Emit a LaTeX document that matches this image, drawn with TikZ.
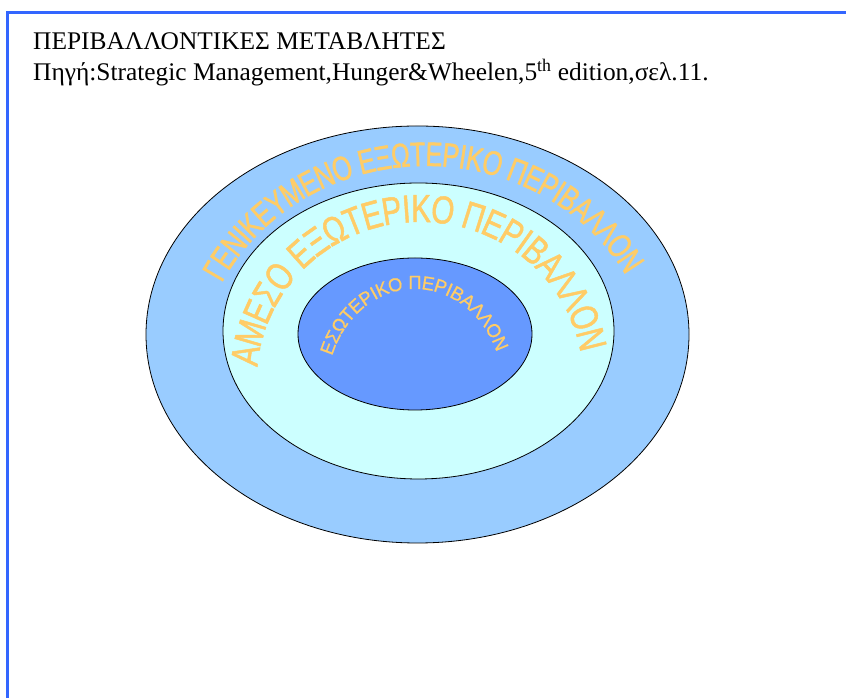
\documentclass[tikz,border=0pt]{standalone}
\usepackage{fontspec}
\setmainfont{Liberation Serif}
\newfontfamily\outerarchfont[FakeStretch=0.74,FakeBold=1.2]{Liberation Sans}
\newfontfamily\midarchfont[FakeStretch=0.76,FakeBold=1.2]{Liberation Sans}
\newfontfamily\innerarchfont[FakeStretch=0.97,FakeBold=0.8]{Liberation Sans}
\usetikzlibrary{decorations.text,shapes.geometric}
\definecolor{frameblue}{RGB}{51,102,255}
\definecolor{outerfill}{RGB}{153,204,255}
\definecolor{midfill}{RGB}{204,255,255}
\definecolor{innerfill}{RGB}{102,153,255}
\definecolor{wordart}{RGB}{255,204,102}
\begin{document}
\begin{tikzpicture}[x=1pt,y=1pt,
  ring/.style={ellipse, draw=black, line width=0.8pt, inner sep=0pt},
  arch/.style={decorate, decoration={text along path, text align=fit to path, text color=wordart}},
  titletext/.style={anchor=base west, inner sep=0pt, font=\fontsize{25.4}{30}\selectfont}]
\useasboundingbox (0,0) rectangle (846,698);
% frame
\coordinate (frA) at (846,685);
\coordinate (frB) at (7,685);
\coordinate (frC) at (7,0);
\draw[frameblue, line width=3pt] (frA) -- (frB) -- (frC);
% titles
\node[titletext] (title) at (33,648) {ΠΕΡΙΒΑΛΛΟΝΤΙΚΕΣ ΜΕΤΑΒΛΗΤΕΣ};
\node[titletext] (source) at (33,617) {Πηγή:Strategic Management,Hunger\&Wheelen,5\textsuperscript{th} edition,σελ.11.};
% rings
\node[ring, fill=outerfill, minimum width=543, minimum height=417] (outer) at (417.5,363.5) {};
\node[ring, fill=midfill, minimum width=391, minimum height=296] (middle) at (418.5,367) {};
\node[ring, fill=innerfill, minimum width=234, minimum height=152] (inner) at (415,364) {};
% arched texts (path runs at mid-height of the capitals)
\path[arch, decoration={raise=-12pt, text={|\outerarchfont\fontsize{34}{34}\selectfont|ΓΕΝΙΚΕΥΜΕΝΟ ΕΞΩΤΕΡΙΚΟ ΠΕΡΙΒΑΛΛΟΝ}}]
  ([shift={(152.9:241 and 226)}]426,318) arc[start angle=152.9, end angle=29.5, x radius=241, y radius=226];
\path[arch, decoration={raise=-14pt, text={|\midarchfont\fontsize{39}{39}\selectfont|ΑΜΕΣΟ ΕΞΩΤΕΡΙΚΟ ΠΕΡΙΒΑΛΛΟΝ}}]
  ([shift={(175:177 and 172)}]420,318) arc[start angle=175, end angle=10.2, x radius=177, y radius=172];
\path[arch, decoration={raise=-7pt, text={|\innerarchfont\fontsize{19}{19}\selectfont|ΕΣΩΤΕΡΙΚΟ ΠΕΡΙΒΑΛΛΟΝ}}]
  ([shift={(160.3:95 and 108)}]415,308) arc[start angle=160.3, end angle=22, x radius=95, y radius=108];
\end{tikzpicture}
\end{document}
